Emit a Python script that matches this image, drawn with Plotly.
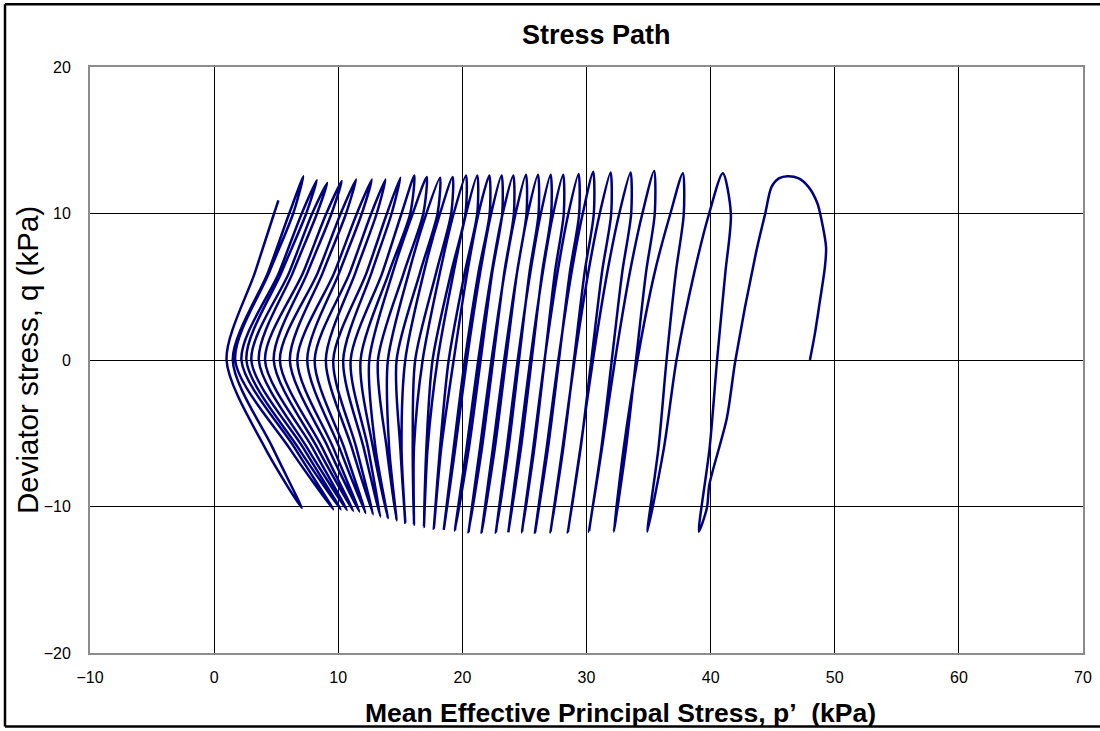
import plotly.graph_objects as go

# ---- Stress path data (p' = mean effective principal stress, q = deviator stress), kPa ----

# First quarter/half cycle: start at p'=48 on q=0, up to the first peak, then down
first_p = [48.0, 48.4, 48.8, 49.2, 49.3, 48.9, 48.6, 47.9, 47.1, 46.2,
           45.5, 44.9, 44.4, 43.7, 42.0, 41.3, 39.9, 39.7]
first_q = [0.0, 1.8, 4.0, 6.3, 7.7, 9.7, 10.7, 11.8, 12.4, 12.55,
           12.4, 11.8, 10.0, 7.5, 0.0, -4.0, -8.5, -10.1]

# Troughs (extension side) at the start of every loading branch
trough_p = [39.05, 34.9, 32.2, 30.2, 28.5, 27.1, 25.85, 24.8, 23.7, 22.7,
            21.55, 20.5, 19.4, 18.5, 17.7, 16.9, 16.1, 15.4, 14.7, 14.0,
            13.4, 12.8, 12.2, 11.7, 11.2, 10.7, 10.2, 9.6, 7.06]
trough_q = [-11.72, -11.72, -11.72, -11.72, -11.75, -11.77, -11.77, -11.77, -11.77, -11.77,
            -11.77, -11.75, -11.65, -11.6, -11.5, -11.4, -11.25, -11.1, -10.95, -10.8,
            -10.7, -10.55, -10.45, -10.35, -10.3, -10.25, -10.2, -10.2, -10.1]

# Loading branches: p' where q passes -6, 0, 6 and 10 kPa
load_levels = [-6.0, 0.0, 6.0, 10.0]
load_p_m6 = [39.92, 35.8, 33.18, 31.2, 29.53, 28.13, 26.9, 25.8, 24.72, 23.72,
             22.62, 21.58, 20.53, 19.3, 18.2, 17.1, 16.0, 15.0, 13.9, 12.8,
             12.05, 11.1, 10.1, 9.2, 8.32, 7.5, 6.78, 6.05, 4.1]
load_p_0 = [40.52, 36.45, 33.99, 32.04, 30.39, 28.99, 27.78, 26.63, 25.58, 24.56,
            23.51, 22.48, 21.47, 20.2, 18.9, 17.6, 16.2, 14.7, 13.2, 11.8,
            10.4, 9.0, 7.5, 6.1, 4.8, 3.6, 2.6, 1.7, 1.0]
load_p_6 = [41.19, 37.2, 34.8, 32.88, 31.25, 29.85, 28.66, 27.46, 26.43, 25.41,
            24.41, 23.38, 22.41, 21.3, 20.2, 19.1, 17.9, 16.6, 15.3, 14.1,
            12.7, 11.4, 10.1, 8.77, 7.54, 6.36, 5.44, 4.45, 3.3]
load_p_10 = [41.63, 37.84, 35.5, 33.6, 31.99, 30.59, 29.41, 28.17, 27.16, 26.14,
             25.17, 24.15, 23.21, 22.2, 21.2, 20.25, 19.1, 18.0, 16.85, 15.8,
             14.3, 13.1, 11.9, 10.63, 9.46, 8.29, 7.42, 6.37, 4.83]

# Peaks (compression side)
peak_p = [40.98, 37.76, 35.45, 33.55, 31.94, 30.54, 29.36, 28.12, 27.11, 26.09,
          25.12, 24.10, 23.16, 22.17, 21.20, 20.29, 19.22, 18.20, 17.13, 16.13,
          15.00, 13.80, 12.70, 11.43, 10.28, 9.12, 8.27, 7.19]
peak_q = [12.75, 12.75, 12.9, 12.8, 12.8, 12.85, 12.7, 12.65, 12.65, 12.65,
          12.65, 12.6, 12.6, 12.6, 12.6, 12.6, 12.5, 12.45, 12.5, 12.6,
          12.45, 12.32, 12.32, 12.32, 12.22, 12.09, 12.27, 12.54]

# Unloading branches: p' where q passes 10, 6, 0 and -6 kPa
unload_levels = [10.0, 6.0, 0.0, -6.0]
unload_p_10 = [39.88, 36.76, 34.5, 32.64, 31.07, 29.7, 28.54, 27.32, 26.32, 25.27,
               24.29, 23.25, 22.32, 21.3, 20.3, 19.3, 18.2, 17.1, 16.0, 15.1,
               13.92, 12.66, 11.5, 10.2, 9.04, 7.9, 7.06, 6.05]
unload_p_6 = [38.69, 35.5, 33.5, 31.68, 30.15, 28.8, 27.67, 26.48, 25.48, 24.41,
              23.41, 22.36, 21.44, 20.4, 19.3, 18.2, 16.9, 15.7, 14.4, 13.57,
              12.3, 10.95, 9.7, 8.37, 7.19, 6.06, 5.24, 4.35]
unload_p_0 = [37.25, 34.1, 32.3, 30.52, 29.04, 27.73, 26.62, 25.47, 24.46, 23.37,
              22.35, 21.28, 20.36, 19.3, 18.0, 16.8, 15.4, 14.0, 12.5, 11.0,
              9.6, 8.1, 6.7, 5.3, 4.1, 3.0, 2.2, 1.5]
unload_p_m6 = [36.24, 33.0, 31.25, 29.51, 28.07, 26.79, 25.71, 24.58, 23.58, 22.46,
               21.42, 20.34, 19.43, 18.3, 17.2, 16.1, 15.1, 14.1, 13.0, 12.4,
               11.46, 10.48, 9.6, 8.72, 7.93, 7.18, 6.49, 4.72]

# Last record: final loading branch stops here
end_p = 5.18
end_q = 10.9

# Axis ticks
x_ticks = [-10, 0, 10, 20, 30, 40, 50, 60, 70]
y_ticks = [-20, -10, 0, 10, 20]

# ---- assemble the continuous path ----
p_path = list(first_p)
q_path = list(first_q)
for k in range(len(peak_p)):
    p_path += [trough_p[k], load_p_m6[k], load_p_0[k], load_p_6[k], load_p_10[k], peak_p[k],
               unload_p_10[k], unload_p_6[k], unload_p_0[k], unload_p_m6[k]]
    q_path += [trough_q[k]] + load_levels + [peak_q[k]] + unload_levels
k = len(peak_p)
p_path += [trough_p[k], load_p_m6[k], load_p_0[k], load_p_6[k], load_p_10[k], end_p]
q_path += [trough_q[k]] + load_levels + [end_q]

FONT = "Liberation Sans, Arial, Helvetica, sans-serif"

fig = go.Figure()
fig.add_trace(go.Scatter(
    x=p_path, y=q_path, mode="lines",
    line=dict(color="#000080", width=2.5, shape="spline", smoothing=0.8),
    showlegend=False, hoverinfo="x+y",
))

axis_common = dict(
    showgrid=True, gridcolor="#000000", gridwidth=1,
    zeroline=True, zerolinecolor="#000000", zerolinewidth=1,
    showline=True, linecolor="#8c8c8c", linewidth=2, mirror=True,
    ticks="", tickfont=dict(family=FONT, size=16, color="#000000"),
)

fig.update_xaxes(range=[-10, 70], tickvals=x_ticks, ticklabelstandoff=9, **axis_common)
fig.update_yaxes(range=[-20, 20], tickvals=y_ticks, ticklabelstandoff=14, **axis_common)

# outer chart frame: left, top and bottom edges
frame_line = dict(color="#000000", width=2.5)
x_left, x_right = -0.0856, 1.03
y_bottom, y_top = -0.1256, 1.1069

fig.update_layout(
    width=1100, height=731,
    margin=dict(l=90, r=17, t=67, b=78, autoexpand=False),
    paper_bgcolor="#ffffff", plot_bgcolor="#ffffff",
    font=dict(family=FONT, color="#000000"),
    annotations=[
        dict(text="<b>Stress Path</b>", xref="paper", yref="paper", x=0.5096, y=1.054,
             showarrow=False, font=dict(family=FONT, size=27), xanchor="center", yanchor="middle"),
        dict(text="<b>Mean Effective Principal Stress, p’\u00a0\u00a0(kPa)</b>", xref="paper", yref="paper",
             x=0.534, y=-0.1025, showarrow=False, font=dict(family=FONT, size=26.5),
             xanchor="center", yanchor="middle"),
        dict(text="Deviator stress, q (kPa)", xref="paper", yref="paper", x=-0.0634, y=0.5,
             showarrow=False, textangle=-90, font=dict(family=FONT, size=29.5),
             xanchor="center", yanchor="middle"),
    ],
    shapes=[
        dict(type="line", xref="paper", yref="paper", x0=x_left, x1=x_left, y0=y_bottom, y1=y_top,
             line=frame_line),
        dict(type="line", xref="paper", yref="paper", x0=x_left, x1=x_right, y0=y_top, y1=y_top,
             line=frame_line),
        dict(type="line", xref="paper", yref="paper", x0=x_left, x1=x_right, y0=y_bottom, y1=y_bottom,
             line=frame_line),
    ],
)

fig.write_html("out.html")
